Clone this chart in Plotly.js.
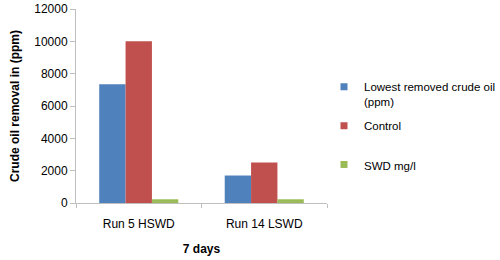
<!DOCTYPE html>
<html><head><meta charset="utf-8">
<script src="https://cdn.plot.ly/plotly-3.0.1.min.js"></script>
<style>body{margin:0;background:#fff}#c{width:500px;height:260px}</style>
</head><body><div id="c"></div>
<script>
const categories = ["Run 5 HSWD", "Run 14 LSWD"];
const lowestRemoved = [7350, 1700];
const control = [10000, 2500];
const swd = [230, 230];
const seriesNames = ["Lowest removed crude oil<br>(ppm)", "Control<br>&nbsp;", "SWD mg/l"];
const yTicks = [0, 2000, 4000, 6000, 8000, 10000, 12000];

const colors = ["#4F81BD", "#C0504D", "#9BBB59"];
const fam = "Liberation Sans, Arial, sans-serif";
const font = {family: fam, size: 11, color: "#000"};
const traces = [lowestRemoved, control, swd].map((v, i) => ({
  type: "bar", x: categories, y: v, name: seriesNames[i], showlegend: false,
  marker: {color: colors[i], line: {width: 0}}
}));
const legendTraces = seriesNames.map((n, i) => ({
  type: "scatter", mode: "markers", x: [null], y: [null], name: n,
  legendgroup: "g" + i, marker: {symbol: "square", size: 7, color: colors[i]}
}));
Plotly.newPlot("c", traces.concat(legendTraces), {
  width: 500, height: 260,
  margin: {l: 76, r: 173, t: 9, b: 57, autoexpand: false},
  barmode: "group", bargap: 0.37, bargroupgap: 0,
  paper_bgcolor: "#fff", plot_bgcolor: "#fff",
  font: font,
  showlegend: true,
  legend: {xref: "container", yref: "container", x: 0.648, y: 0.72, yanchor: "top", xanchor: "left",
    tracegroupgap: 6, valign: "top",
    font: {family: fam, size: 11.5, color: "#000"}, itemwidth: 30, bgcolor: "rgba(0,0,0,0)"},
  xaxis: {showgrid: false, showline: true, linecolor: "#BFBFBF", linewidth: 1,
    ticks: "outside", ticklen: 4, tickcolor: "#BFBFBF", tickson: "boundaries",
    ticklabelstandoff: 10,
    tickfont: {size: 12}, title: {text: "<b>7 days</b>", font: {size: 12}, standoff: 14}},
  yaxis: {range: [0, 12000], tickvals: yTicks, ticktext: yTicks.map(String), showgrid: false, zeroline: false,
    showline: true, linecolor: "#BFBFBF", ticks: "outside", ticklen: 5, tickcolor: "#BFBFBF",
    tickfont: {size: 12},
    title: {text: "<b>Crude oil removal in (ppm)</b>", font: {size: 12}, standoff: 12}}
}, {displayModeBar: false, staticPlot: true});
</script></body></html>
